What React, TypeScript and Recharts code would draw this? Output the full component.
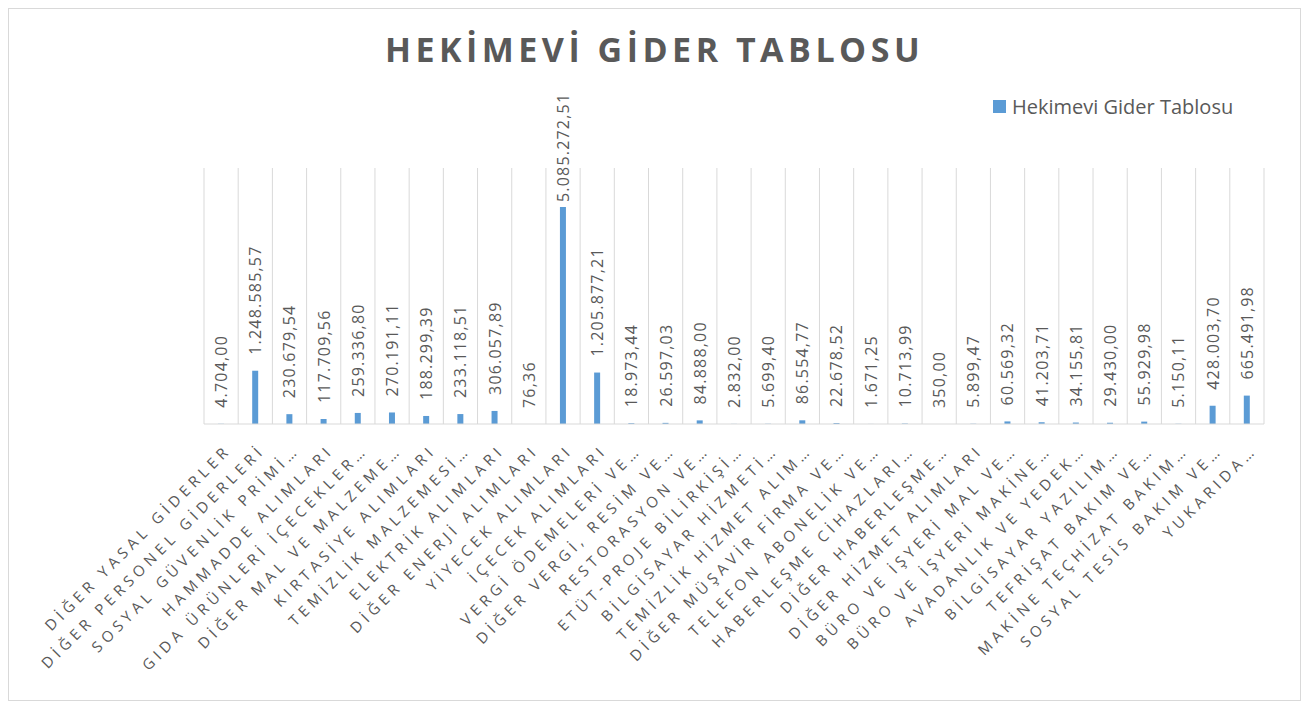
import { BarChart, Bar, XAxis, YAxis, CartesianGrid, Legend, LabelList } from "recharts";

const categories = [
  "DİĞER YASAL GİDERLER",
  "DİĞER PERSONEL GİDERLERİ",
  "SOSYAL GÜVENLİK PRİMİ…",
  "HAMMADDE ALIMLARI",
  "GIDA ÜRÜNLERİ İÇECEKLER…",
  "DİĞER MAL VE MALZEME…",
  "KIRTASİYE ALIMLARI",
  "TEMİZLİK MALZEMESİ…",
  "ELEKTRİK ALIMLARI",
  "DİĞER ENERJİ ALIMLARI",
  "YİYECEK ALIMLARI",
  "İÇECEK ALIMLARI",
  "VERGİ ÖDEMELERİ VE…",
  "DİĞER VERGİ, RESİM VE…",
  "RESTORASYON VE…",
  "ETÜT-PROJE BİLİRKİŞİ…",
  "BİLGİSAYAR HİZMETİ…",
  "TEMİZLİK HİZMET ALIM…",
  "DİĞER MÜŞAVİR FİRMA VE…",
  "TELEFON ABONELİK VE…",
  "HABERLEŞME CİHAZLARI…",
  "DİĞER HABERLEŞME…",
  "DİĞER HİZMET ALIMLARI",
  "BÜRO VE İŞYERİ MAL VE…",
  "BÜRO VE İŞYERİ MAKİNE…",
  "AVADANLIK VE YEDEK…",
  "BİLGİSAYAR YAZILIM…",
  "TEFRİŞAT BAKIM VE…",
  "MAKİNE TEÇHİZAT BAKIM…",
  "SOSYAL TESİS BAKIM VE…",
  "YUKARIDA…",
];

const giderler = [
  4704.0, 1248585.57, 230679.54, 117709.56, 259336.8, 270191.11, 188299.39,
  233118.51, 306057.89, 76.36, 5085272.51, 1205877.21, 18973.44, 26597.03,
  84888.0, 2832.0, 5699.4, 86554.77, 22678.52, 1671.25, 10713.99, 350.0,
  5899.47, 60569.32, 41203.71, 34155.81, 29430.0, 55929.98, 5150.11,
  428003.7, 665491.98,
];

const seriesName = "Hekimevi Gider Tablosu";
const title = "HEKİMEVİ GİDER TABLOSU";

const data = categories.map((name, i) => ({ name, value: giderler[i] }));

const fmt = (v: number) => {
  const [i, d] = v.toFixed(2).split(".");
  return i.replace(/\B(?=(\d{3})+(?!\d))/g, ".") + "," + d;
};

const ValueLabel = (props: any) => {
  const { x, y, width, value } = props;
  const s = fmt(Number(value));
  const cx = x + width / 2;
  let by = y - 16;
  if (by - s.length * 9.3 < 82) by = y - 5;
  return (
    <text
      x={cx}
      y={by}
      transform={`rotate(-90, ${cx}, ${by})`}
      textAnchor="start"
      dominantBaseline="central"
      fontSize={16}
      letterSpacing={1.2}
      fill="#595959"
      fontFamily="Open Sans"
    >
      {s}
    </text>
  );
};

const CatTick = (props: any) => {
  const { x, y, payload } = props;
  const ax = x + 11;
  const ay = y + 19;
  return (
    <text
      x={ax}
      y={ay}
      transform={`rotate(-45, ${ax}, ${ay})`}
      textAnchor="end"
      fontSize={15}
      letterSpacing={4.6}
      fill="#595959"
      fontFamily="Open Sans"
    >
      {payload.value}
    </text>
  );
};

const LegendBox = () => (
  <div style={{ display: "flex", alignItems: "center", fontFamily: "Open Sans", fontSize: 20, color: "#595959", whiteSpace: "nowrap" }}>
    <span style={{ width: 13, height: 13, background: "#5b9bd5", marginRight: 6 }} />
    {seriesName}
  </div>
);

export default function App() {
  return (
    <div
      style={{
        position: "relative",
        width: 1293,
        height: 693,
        border: "1px solid #d9d9d9",
        boxSizing: "border-box",
        background: "#fff",
      }}
    >
      <div
        style={{
          position: "absolute",
          top: 17,
          left: 0,
          width: "100%",
          textAlign: "center",
          fontFamily: "Open Sans",
          fontWeight: 700,
          fontSize: 34,
          letterSpacing: 4.5,
          color: "#595959",
        }}
      >
        {title}
      </div>
      <BarChart
        width={1291}
        height={691}
        data={data}
        margin={{ top: 159, right: 36, bottom: 246, left: 195 }}
      >
        <CartesianGrid
          horizontal={false}
          stroke="#d9d9d9"
          verticalCoordinatesGenerator={({ offset }: any) =>
            categories.concat([""]).map((_, i) => offset.left + (i * offset.width) / categories.length)
          }
        />
        <XAxis
          dataKey="name"
          interval={0}
          height={30}
          tickLine={false}
          axisLine={{ stroke: "#d9d9d9" }}
          tick={<CatTick />}
        />
        <YAxis hide domain={[0, 6000000]} />
        <Legend
          layout="horizontal"
          verticalAlign="middle"
          align="center"
          wrapperStyle={{ top: 84, left: 984, width: 300 }}
          content={<LegendBox />}
        />
        <Bar dataKey="value" name={seriesName} fill="#5b9bd5" barSize={6} isAnimationActive={false}>
          <LabelList dataKey="value" content={<ValueLabel />} />
        </Bar>
      </BarChart>
    </div>
  );
}
